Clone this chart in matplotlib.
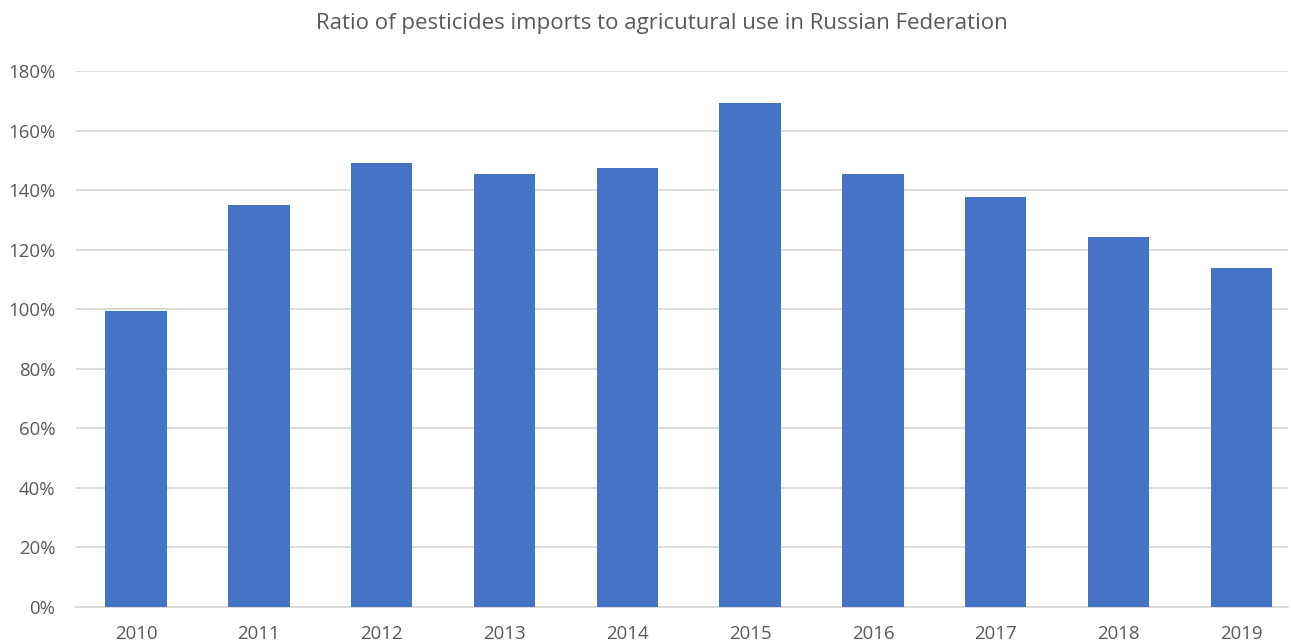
import numpy as np
import matplotlib.pyplot as plt
from matplotlib.ticker import FuncFormatter

years = ['2010', '2011', '2012', '2013', '2014', '2015', '2016', '2017', '2018', '2019']
ratio = [99.5, 135.0, 149.1, 145.5, 147.5, 169.2, 145.5, 137.7, 124.2, 113.9]

plt.rcParams['font.family'] = ['Open Sans', 'DejaVu Sans']
text_color = '#595959'
grid_color = '#D9D9D9'

fig = plt.figure(figsize=(12.91, 6.41), dpi=100)
ax = fig.add_axes([76 / 1291, 34 / 641, (1288 - 76) / 1291, (607 - 71) / 641])

x = np.arange(len(years))
ax.bar(x, ratio, width=0.5, color='#4472C4', zorder=3)

ax.set_xlim(-0.49, 9.38)
ax.set_ylim(0, 180)
ax.set_yticks(np.arange(0, 181, 20))
ax.yaxis.set_major_formatter(FuncFormatter(lambda v, p: f'{v:.0f}%'))
ax.set_xticks(x)
ax.set_xticklabels(years)

ax.grid(axis='y', color=grid_color, linewidth=1.3, zorder=0)
for s in ['top', 'right', 'left']:
    ax.spines[s].set_visible(False)
ax.spines['bottom'].set_color(grid_color)
ax.spines['bottom'].set_linewidth(1.3)
ax.tick_params(axis='both', length=0, labelsize=13.4, colors=text_color)
ax.tick_params(axis='y', pad=15)
ax.tick_params(axis='x', pad=13)

fig.text(662 / 1291, 1 - 24 / 641, 'Ratio of pesticides imports to agricutural use in Russian Federation',
         ha='center', va='center', fontsize=16, color=text_color)

fig.savefig('out.png', dpi=100)
